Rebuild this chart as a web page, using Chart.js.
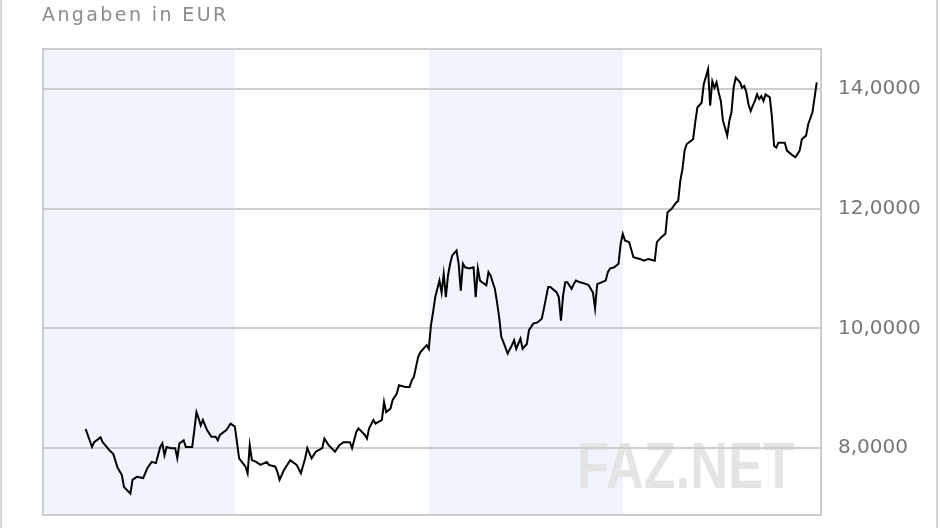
<!DOCTYPE html>
<html lang="de">
<head>
  <meta charset="UTF-8" />
  <title>Kursverlauf – Angaben in EUR</title>
  <script src="https://cdn.jsdelivr.net/npm/chart.js"></script>
  <style>
    html, body { margin: 0; padding: 0; background: #fff; }
    #wrap { position: relative; width: 940px; height: 528px; overflow: hidden; }
    #titel { position: absolute; left: 42px; top: 3px; font-family: "DejaVu Sans", sans-serif; font-size: 19px; line-height: 22px; letter-spacing: 2.4px; color: #8c8c8c; }
    canvas { position: absolute; left: 0; top: 0; }
  </style>
</head>
<body>
<div id="wrap">
  <!-- etwas höher als der sichtbare Bereich, Chart.js reserviert unten Platz -->
  <canvas id="kurs" width="940" height="544"></canvas>
  <div id="titel">Angaben in EUR</div>
</div>

<script>
  // Tag im Jahr (0 = Jahresanfang) und Schlusskurs in EUR
  const tage = [20, 23, 24, 27, 28, 31, 33, 35, 37, 38, 41, 42, 44, 47, 49, 51, 53, 55, 56, 57,
    58, 60, 62, 63, 64, 66, 67, 70, 71, 72, 73, 74, 75, 77, 79, 81, 82, 83, 86, 88,
    90, 91, 92, 95, 96, 97, 98, 100, 102, 105, 106, 109, 110, 111, 113, 116, 119, 121, 123, 124,
    126, 128, 131, 132, 134, 137, 139, 141, 144, 145, 147, 148, 151, 152, 153, 155, 156, 159, 160, 161,
    163, 164, 166, 167, 170, 172, 173, 174, 176, 177, 180, 181, 182, 183, 184, 186, 187, 188, 189, 190,
    191, 192, 194, 195, 196, 197, 198, 200, 202, 203, 204, 205, 206, 208, 209, 210, 212, 213, 214, 215,
    216, 218, 220, 221, 222, 224, 225, 227, 228, 230, 232, 234, 235, 237, 238, 241, 242, 243, 244, 245,
    246, 248, 249, 250, 252, 255, 256, 258, 259, 260, 262, 264, 265, 266, 268, 270, 271, 272, 273, 275,
    277, 280, 282, 284, 287, 288, 290, 292, 293, 295, 297, 298, 299, 300, 301, 302, 305, 306, 307, 309,
    310, 312, 313, 314, 315, 316, 317, 318, 319, 321, 322, 323, 324, 325, 327, 328, 329, 330, 331, 332,
    333, 334, 335, 336, 337, 338, 339, 341, 342, 343, 344, 345, 348, 349, 350, 352, 353, 355, 356, 358,
    359, 361, 362, 363];
  const kurse = [8.32, 8.02, 8.10, 8.18, 8.10, 7.97, 7.90, 7.67, 7.55, 7.35, 7.24, 7.47, 7.52, 7.50, 7.67, 7.77, 7.75, 8.02, 8.08, 7.88,
    8.02, 8.00, 8.00, 7.83, 8.08, 8.13, 8.02, 8.02, 8.30, 8.60, 8.50, 8.38, 8.47, 8.30, 8.19, 8.19, 8.13, 8.22, 8.30, 8.41,
    8.36, 8.10, 7.83, 7.69, 7.58, 8.05, 7.80, 7.77, 7.72, 7.77, 7.72, 7.69, 7.60, 7.47, 7.63, 7.80, 7.72, 7.58, 7.83, 8.00,
    7.83, 7.94, 8.00, 8.16, 8.05, 7.94, 8.05, 8.10, 8.10, 8.00, 8.27, 8.33, 8.22, 8.16, 8.33, 8.47, 8.41, 8.47, 8.77, 8.60,
    8.66, 8.80, 8.91, 9.05, 9.02, 9.02, 9.13, 9.19, 9.52, 9.60, 9.72, 9.66, 10.05, 10.27, 10.52, 10.80, 10.60, 10.91, 10.52, 10.88,
    11.08, 11.22, 11.30, 11.08, 10.63, 11.08, 11.02, 11.00, 11.02, 10.52, 11.00, 10.80, 10.77, 10.72, 10.94, 10.88, 10.66, 10.44, 10.19, 9.86,
    9.77, 9.58, 9.72, 9.80, 9.66, 9.83, 9.66, 9.74, 9.97, 10.08, 10.10, 10.16, 10.33, 10.69, 10.69, 10.60, 10.52, 10.13, 10.55, 10.77,
    10.77, 10.66, 10.74, 10.80, 10.77, 10.74, 10.72, 10.60, 10.33, 10.74, 10.77, 10.80, 10.94, 11.00, 11.02, 11.08, 11.41, 11.58, 11.47, 11.44,
    11.19, 11.16, 11.13, 11.16, 11.13, 11.44, 11.52, 11.58, 11.94, 12.00, 12.10, 12.13, 12.47, 12.66, 12.97, 13.08, 13.16, 13.44, 13.69, 13.77,
    14.08, 14.33, 13.72, 14.13, 14.02, 14.11, 13.94, 13.80, 13.47, 13.22, 13.47, 13.61, 14.02, 14.19, 14.11, 14.02, 14.05, 13.94, 13.74, 13.63,
    13.72, 13.80, 13.91, 13.83, 13.88, 13.80, 13.91, 13.86, 13.52, 13.05, 13.02, 13.10, 13.10, 12.97, 12.94, 12.88, 12.86, 12.97, 13.16, 13.22,
    13.41, 13.61, 13.86, 14.11];

  // Quartale, jedes zweite hinterlegt
  const quartalStart = [0, 181];
  const quartalEnde = [90, 272];
  const yTicks = [8, 10, 12, 14];
  const yMin = 6.883, yMax = 14.667;
  const xMin = 0, xMax = 365;

  const hintergrund = {
    id: 'hintergrund',
    beforeDraw(chart) {
      const { ctx, chartArea: a, scales: { x } } = chart;
      ctx.save();
      // äußerer Rahmen
      ctx.fillStyle = '#d6d6d6';
      ctx.fillRect(0, 0, 2, chart.height);
      ctx.fillRect(936, 0, 2, chart.height);
      // Quartalsbänder
      ctx.fillStyle = '#eff4fe';
      quartalStart.forEach((s, i) => {
        const x0 = x.getPixelForValue(s), x1 = x.getPixelForValue(quartalEnde[i]);
        ctx.fillRect(x0, a.top, x1 - x0, a.bottom - a.top);
      });
      // Wasserzeichen
      ctx.fillStyle = '#e4e4e4';
      ctx.font = 'bold 65px "Liberation Sans", Arial, sans-serif';
      const txt = 'FAZ.NET';
      const w = ctx.measureText(txt).width;
      ctx.translate(a.right - 26 - 218, a.bottom - 27);
      ctx.scale(218 / w, 1);
      ctx.fillText(txt, 0, 0);
      ctx.restore();
    },
    afterDraw(chart) {
      const { ctx, chartArea: a } = chart;
      ctx.save();
      ctx.strokeStyle = '#cdcdcd';
      ctx.lineWidth = 2;
      ctx.strokeRect(a.left, a.top, a.right - a.left, a.bottom - a.top);
      ctx.restore();
    }
  };

  new Chart(document.getElementById('kurs'), {
    type: 'line',
    data: {
      datasets: [{
        data: tage.map((t, i) => ({ x: t, y: kurse[i] })),
        borderColor: '#000',
        borderWidth: 2,
        pointRadius: 0,
        tension: 0,
        fill: false
      }]
    },
    options: {
      responsive: false,
      animation: false,
      layout: { padding: { left: 43, top: 49, bottom: 13, right: 0 } },
      plugins: { legend: { display: false }, tooltip: { enabled: false } },
      scales: {
        x: { type: 'linear', min: xMin, max: xMax, display: false },
        y: {
          position: 'right',
          min: yMin,
          max: yMax,
          afterFit(s) { s.width = 119; },
          afterBuildTicks(s) { s.ticks = yTicks.map(v => ({ value: v })); },
          border: { display: false },
          grid: { color: '#cdcdcd', lineWidth: 2, drawTicks: false },
          ticks: {
            padding: 17,
            color: '#777',
            font: { family: '"DejaVu Sans", sans-serif', size: 20 },
            callback: v => v.toFixed(4).replace('.', ',')
          }
        }
      }
    },
    plugins: [hintergrund]
  });
</script>
</body>
</html>
